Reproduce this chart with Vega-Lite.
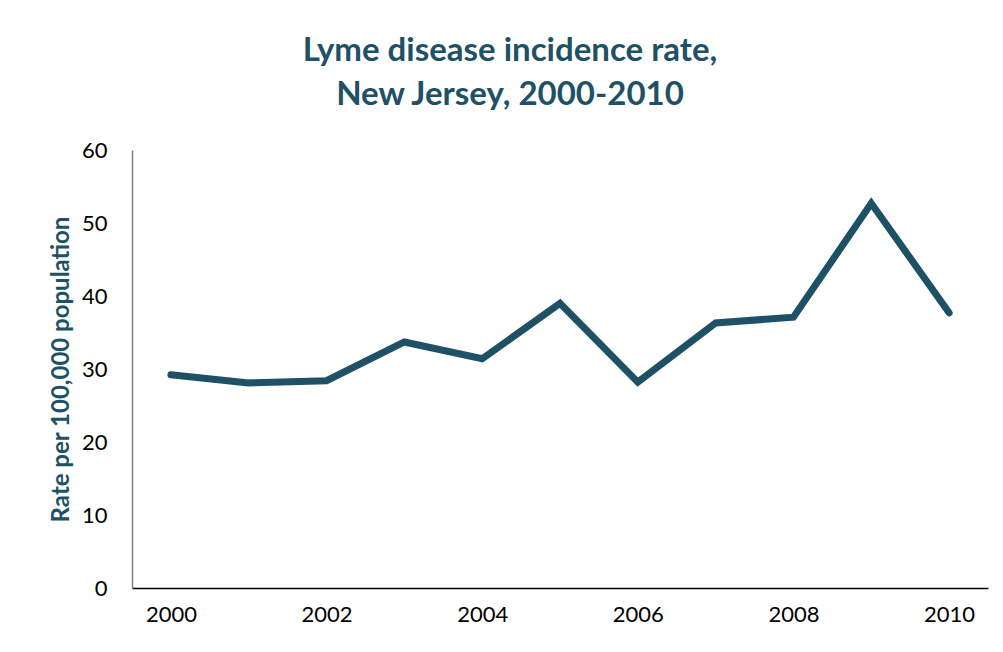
{
  "$schema": "https://vega.github.io/schema/vega-lite/v6.json",
  "autosize": "none",
  "width": 856,
  "height": 438,
  "padding": {"left": 132, "top": 150, "right": 15, "bottom": 64},
  "background": "white",
  "title": {
    "text": ["Lyme disease incidence rate,", "New Jersey, 2000-2010"],
    "font": "Lato",
    "fontSize": 33,
    "fontWeight": "bold",
    "color": "#1E5166",
    "lineHeight": 44,
    "anchor": "middle",
    "dx": -50,
    "offset": 27
  },
  "data": {
    "values": [
      {"year": 2000, "rate": 29.2},
      {"year": 2001, "rate": 28.1},
      {"year": 2002, "rate": 28.4},
      {"year": 2003, "rate": 33.7},
      {"year": 2004, "rate": 31.4},
      {"year": 2005, "rate": 39.0},
      {"year": 2006, "rate": 28.2},
      {"year": 2007, "rate": 36.3},
      {"year": 2008, "rate": 37.1},
      {"year": 2009, "rate": 52.7},
      {"year": 2010, "rate": 37.7}
    ]
  },
  "mark": {"type": "line", "color": "#1E5166", "strokeWidth": 7, "strokeCap": "round", "strokeJoin": "miter"},
  "encoding": {
    "x": {
      "field": "year",
      "type": "quantitative",
      "scale": {"domain": [1999.5, 2010.5], "nice": false, "zero": false},
      "axis": {
        "title": null,
        "values": [2000, 2002, 2004, 2006, 2008, 2010],
        "format": "d",
        "grid": false,
        "ticks": false,
        "domainColor": "#000000",
        "domainWidth": 1.5,
        "labelFont": "Lato",
        "labelFontSize": 22,
        "labelColor": "#000000",
        "labelPadding": 16
      }
    },
    "y": {
      "field": "rate",
      "type": "quantitative",
      "scale": {"domain": [0, 60], "nice": false},
      "axis": {
        "title": "Rate per 100,000 population",
        "titleFont": "Lato",
        "titleFontSize": 24,
        "titleFontWeight": "bold",
        "titleColor": "#1E5166",
        "titlePadding": 8,
        "values": [0, 10, 20, 30, 40, 50, 60],
        "grid": false,
        "ticks": false,
        "domainColor": "#808080",
        "domainWidth": 1.5,
        "labelFont": "Lato",
        "labelFontSize": 22,
        "labelColor": "#000000",
        "labelPadding": 25
      }
    }
  },
  "config": {"view": {"stroke": null}}
}
